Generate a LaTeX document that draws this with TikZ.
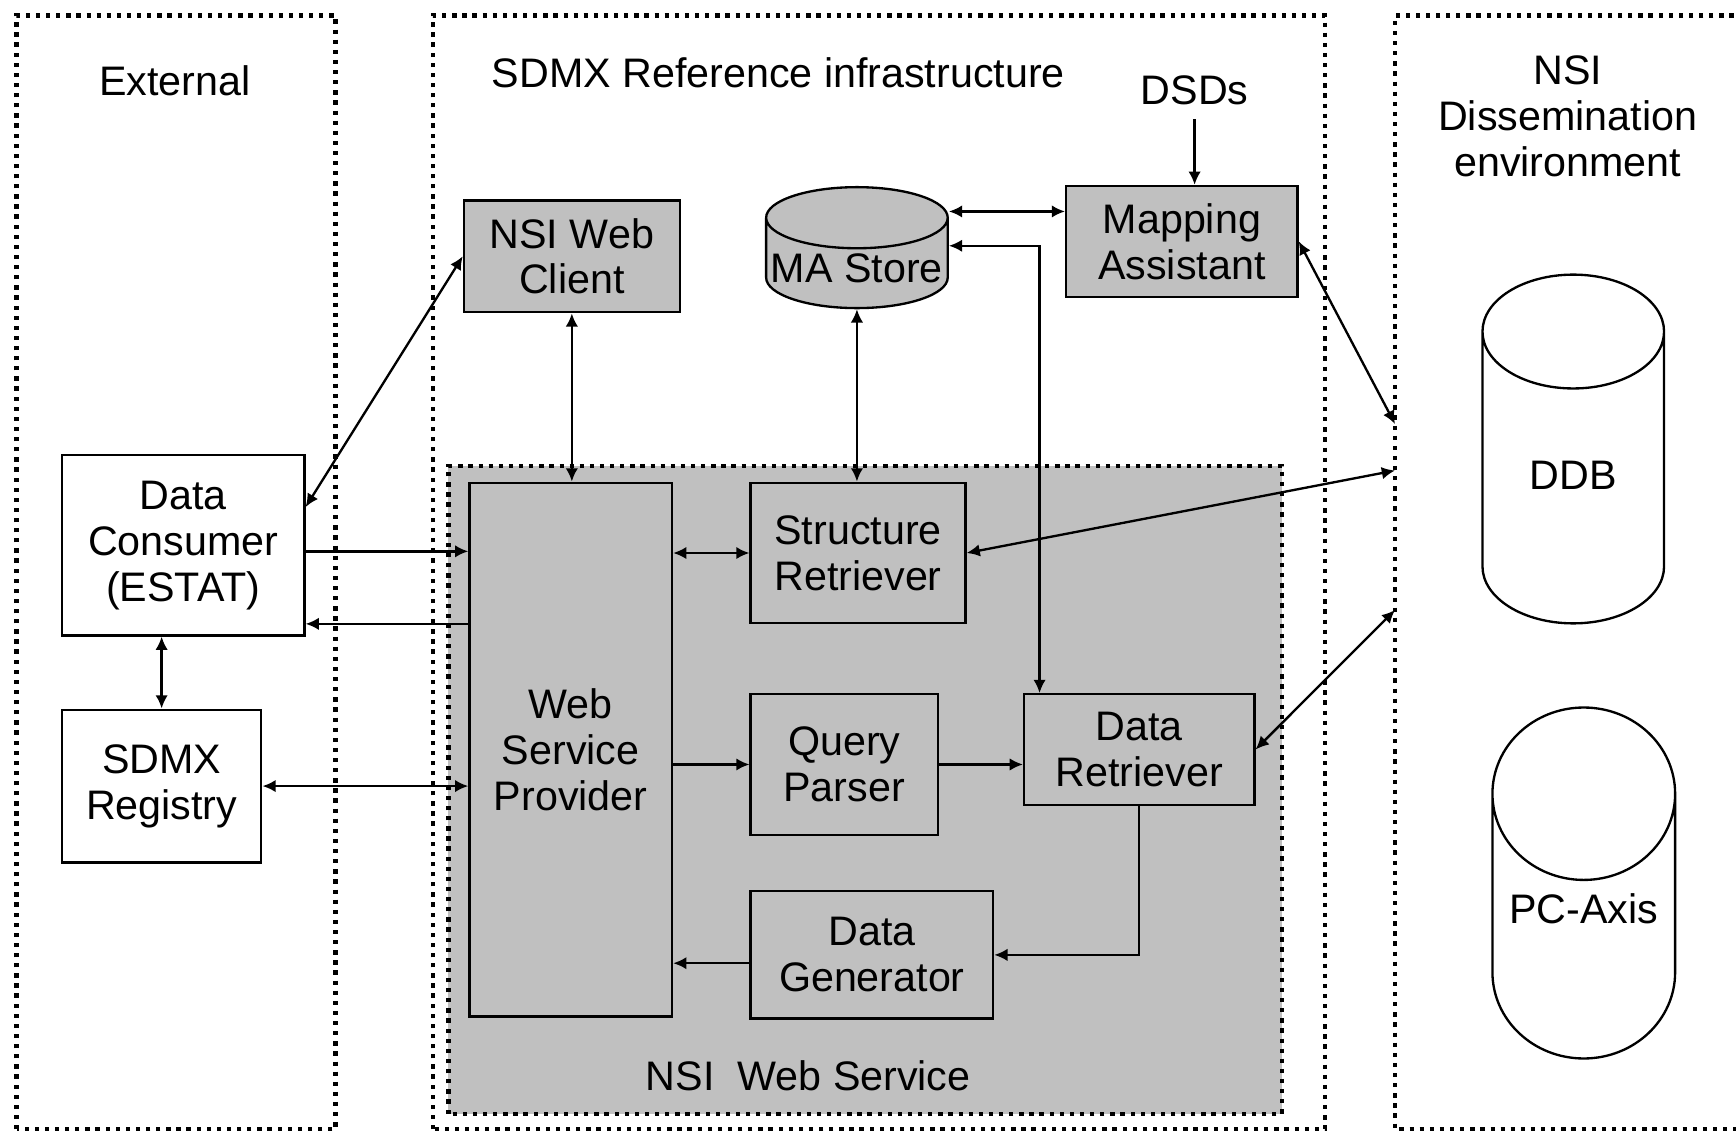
\documentclass[tikz,border=0pt]{standalone}
\usepackage{fontspec}
\setmainfont{Liberation Sans}
\usepackage{xcolor}
\usetikzlibrary{positioning,shapes.geometric,arrows.meta,calc}
\definecolor{boxgray}{RGB}{192,192,192}

\begin{document}
\begin{tikzpicture}[
    every node/.style={font=\fontsize{10.6}{11.8}\selectfont, align=center},
    box/.style={draw, line width=0.6pt, fill=boxgray, inner sep=1pt},
    whitebox/.style={draw, line width=0.6pt, fill=white, inner sep=1pt},
    store/.style={cylinder, shape border rotate=90, draw, line width=0.6pt, inner sep=1pt, anchor=north},
    region/.style={line width=1.1pt, dash pattern=on 1.1pt off 1.5pt},
    arr/.style={line width=0.6pt, -{Latex[length=3.4pt,width=3.2pt]}},
    dbl/.style={line width=0.6pt, {Latex[length=3.4pt,width=3.2pt]}-{Latex[length=3.4pt,width=3.2pt]}}
]
    \useasboundingbox (0,0) rectangle (15.68,10.22);

    % Regions
    \draw[region] (0.15,0.02) rectangle (3.03,10.08);
    \draw[region] (3.91,0.02) rectangle (11.97,10.08);
    \draw[region] (15.75,10.08) -- (12.60,10.08) -- (12.60,0.02) -- (15.75,0.02);
    \filldraw[region, fill=boxgray] (4.05,0.16) rectangle (11.58,6.01);

    % Region labels
    \node (external) at (1.58,9.49) {External};
    \node (infra) at (7.03,9.56) {SDMX Reference infrastructure};
    \node (dissem) at (14.16,9.17) {NSI\\Dissemination\\environment};
    \node (service) at (7.30,0.50) {NSI~~Web Service};
    \node (dsds) at (10.79,9.40) {DSDs};

    % External side
    \node[whitebox, minimum width=2.19cm, minimum height=1.63cm] (consumer) at (1.655,5.295) {Data\\Consumer\\(ESTAT)};
    \node[whitebox, minimum width=1.80cm, minimum height=1.38cm] (registry) at (1.46,3.12) {SDMX\\Registry};

    % Reference infrastructure
    \node[box, minimum width=1.95cm, minimum height=1.01cm] (client) at (5.165,7.905) {NSI Web\\Client};
    \node[store, fill=boxgray, minimum width=1.64cm, minimum height=1.08cm, aspect=0.34] (mastore) at (7.74,8.54) {MA Store};
    \node[box, minimum width=2.09cm, minimum height=1.00cm] (mapping) at (10.675,8.04) {Mapping\\Assistant};

    % Web service parts
    \node[box, minimum width=1.83cm, minimum height=4.82cm] (provider) at (5.155,3.45) {Web\\Service\\Provider};
    \node[box, minimum width=1.94cm, minimum height=1.27cm] (structret) at (7.75,5.225) {Structure\\Retriever};
    \node[box, minimum width=1.69cm, minimum height=1.27cm] (parser) at (7.625,3.315) {Query\\Parser};
    \node[box, minimum width=2.08cm, minimum height=1.00cm] (dataret) at (10.29,3.45) {Data\\Retriever};
    \node[box, minimum width=2.19cm, minimum height=1.15cm] (generator) at (7.875,1.595) {Data\\Generator};

    % Dissemination databases
    \node[store, fill=white, minimum width=1.64cm, minimum height=3.15cm, aspect=1.2, text depth=2mm] (ddb) at (14.21,7.75) {DDB};
    \node[store, fill=white, minimum width=1.65cm, minimum height=3.17cm, aspect=1.1, text depth=5.6mm] (pcaxis) at (14.305,3.84) {PC-Axis};

    % Points on the dissemination boundary
    \coordinate (b1) at (12.60,6.39);
    \coordinate (b2) at (12.60,5.97);
    \coordinate (b3) at (12.60,4.71);
    \coordinate (c1) at ([yshift=-7.1mm]consumer.east);
    \coordinate (m1) at ([yshift=2.7mm]mapping.west);

    % Connectors
    \draw[arr] (dsds.south) -- (dsds.south |- mapping.north);
    \draw[dbl] (m1 -| mastore.east) -- (m1);
    \draw[dbl] ([xshift=1.5mm]dataret.north west) |- ([yshift=2mm]mastore.east);
    \draw[dbl] (mastore.south) -- (mastore.south |- structret.north);
    \draw[dbl] (client.south) -- (client.south |- provider.north);
    \draw[dbl] ([yshift=3.45mm]consumer.east) -- (client.west);
    \draw[arr] ([yshift=-0.55mm]consumer.east) -- ([yshift=-0.55mm]consumer.east -| provider.west);
    \draw[arr] (c1 -| provider.west) -- (c1);
    \draw[dbl] (registry.north) -- (registry.north |- consumer.south);
    \draw[dbl] (registry.east) -- (registry.east -| provider.west);
    \draw[dbl] (structret.west -| provider.east) -- (structret.west);
    \draw[arr] (parser.west -| provider.east) -- (parser.west);
    \draw[arr] (parser.east) -- (parser.east -| dataret.west);
    \draw[arr] (dataret.south) |- (generator.east);
    \draw[arr] ([yshift=-0.75mm]generator.west) -- ([yshift=-0.75mm]generator.west -| provider.east);
    \draw[dbl] (structret.east) -- (b2);
    \draw[dbl] (mapping.east) -- (b1);
    \draw[dbl] (dataret.east) -- (b3);
\end{tikzpicture}
\end{document}
